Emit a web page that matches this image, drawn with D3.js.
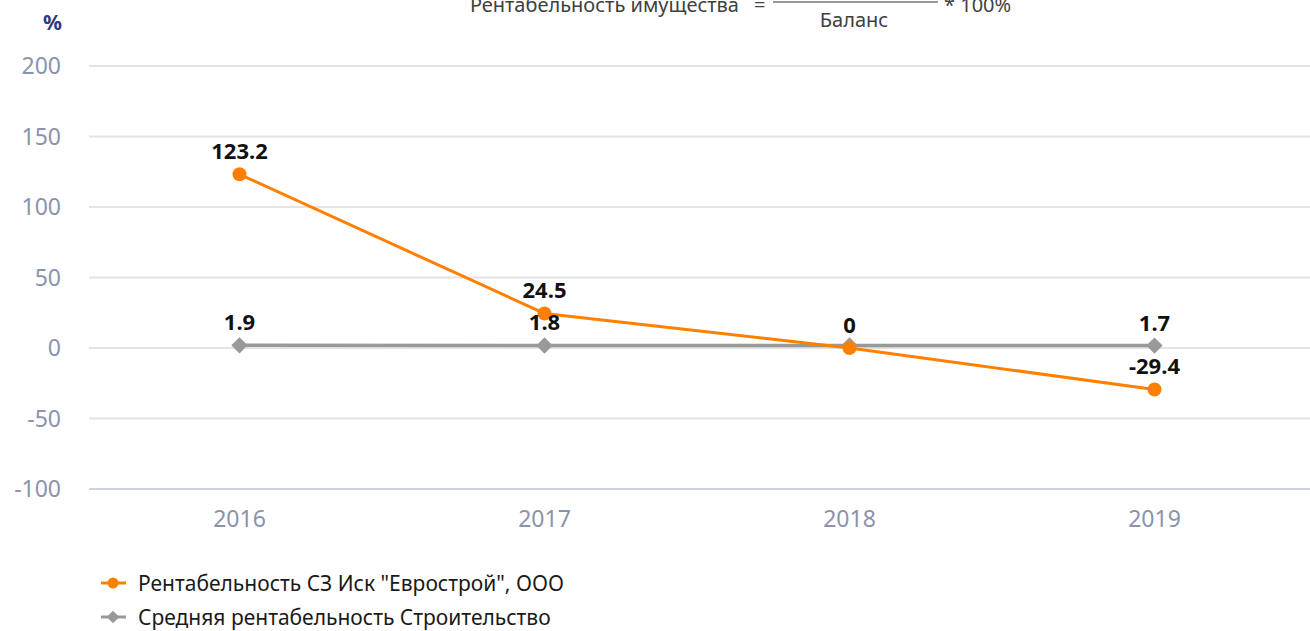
<!DOCTYPE html>
<html>
<head>
<meta charset="utf-8">
<script src="https://cdn.jsdelivr.net/npm/d3@7"></script>
<style>
  body { margin: 0; background: #fff; }
  svg { font-family: "Noto Sans", sans-serif; display: block; }
</style>
</head>
<body>
<script>
// chart data
var years = ["2016", "2017", "2018", "2019"];
var company = [123.2, 24.5, 0, -29.4];
var companyLabels = ["123.2", "24.5", "0", "-29.4"];
var industry = [1.9, 1.8, 1.8, 1.7];
var industryLabels = ["1.9", "1.8", "", "1.7"];
var yTicks = [-100, -50, 0, 50, 100, 150, 200];
var seriesNames = ["Рентабельность СЗ Иск \"Еврострой\", ООО", "Средняя рентабельность Строительство"];

var width = 1310, height = 631;
var orange = "#ff8000", grey = "#999999";

var svg = d3.select("body").append("svg")
    .attr("width", width).attr("height", height);

var x = d3.scalePoint().domain(years).range([87, 1307]).padding(0.5);
var y = d3.scaleLinear().domain([-100, 200]).range([489, 66]);

/* formula at the top (numerator is cut off) */
var f = svg.append("g").style("fill", "#404040").style("font-size", "20px");
f.append("text").attr("x", 739).attr("y", 12).attr("text-anchor", "end")
    .text("Рентабельность имущества");
f.append("text").attr("x", 754).attr("y", 12).text("=");
f.append("line").attr("x1", 773).attr("x2", 938).attr("y1", 2).attr("y2", 2)
    .style("stroke", "#999").style("stroke-width", 2);
f.append("text").attr("x", 944).attr("y", 12).text("* 100%");
f.append("text").attr("x", 854).attr("y", 27).attr("text-anchor", "middle").text("Баланс");

// units label
svg.append("text").attr("x", 62).attr("y", 30).attr("text-anchor", "end")
    .style("font-size", "21px").style("font-weight", "bold").style("fill", "#2d3a7c")
    .text("%");

// gridlines + y labels
svg.append("g").selectAll("line").data(yTicks).join("line")
    .attr("x1", 89).attr("x2", width)
    .attr("y1", function(d){ return y(d); }).attr("y2", function(d){ return y(d); })
    .style("stroke", function(d){ return d === -100 ? "#cbd3e3" : "#e3e3e3"; })
    .style("stroke-width", 2);

svg.append("g").selectAll("text").data(yTicks).join("text")
    .attr("x", 61).attr("y", function(d){ return y(d) + 8; })
    .attr("text-anchor", "end")
    .style("font-size", "23px").style("fill", "#8a93ad")
    .text(function(d){ return d; });

// x labels
svg.append("g").selectAll("text").data(years).join("text")
    .attr("x", function(d){ return x(d); }).attr("y", 527)
    .attr("text-anchor", "middle")
    .style("font-size", "23px").style("fill", "#8a93ad")
    .text(function(d){ return d; });

var line = d3.line()
    .x(function(d, i){ return x(years[i]); })
    .y(function(d){ return y(d); });

// industry series (grey, diamonds)
svg.append("path").datum(industry).attr("d", line)
    .style("fill", "none").style("stroke", grey).style("stroke-width", 3.5);
svg.append("g").selectAll("path").data(industry).join("path")
    .attr("d", d3.symbol(d3.symbolDiamond2, 170))
    .attr("transform", function(d, i){ return "translate(" + x(years[i]) + "," + y(d) + ")"; })
    .style("fill", grey);

// company series (orange, circles)
svg.append("path").datum(company).attr("d", line)
    .style("fill", "none").style("stroke", orange).style("stroke-width", 3);
svg.append("g").selectAll("circle").data(company).join("circle")
    .attr("cx", function(d, i){ return x(years[i]); })
    .attr("cy", function(d){ return y(d); })
    .attr("r", 7).style("fill", orange);

// data labels
function addLabels(vals, labels) {
    svg.append("g").selectAll("text").data(vals).join("text")
        .attr("x", function(d, i){ return x(years[i]); })
        .attr("y", function(d){ return y(d) - 15; })
        .attr("text-anchor", "middle")
        .style("font-size", "22px").style("font-weight", "bold").style("fill", "#111")
        .text(function(d, i){ return labels[i]; });
}
addLabels(industry, industryLabels);
addLabels(company, companyLabels);

// legend
var leg = svg.append("g");
var rows = [{ name: seriesNames[0], c: orange, shape: "circle" },
            { name: seriesNames[1], c: grey, shape: "diamond" }];
rows.forEach(function(r, i){
    var ly = 583 + i * 34;
    leg.append("line").attr("x1", 101).attr("x2", 126).attr("y1", ly).attr("y2", ly)
        .style("stroke", r.c).style("stroke-width", 3);
    if (r.shape === "circle") {
        leg.append("circle").attr("cx", 113).attr("cy", ly).attr("r", 5.5).style("fill", r.c);
    } else {
        leg.append("path").attr("d", d3.symbol(d3.symbolDiamond2, 100))
            .attr("transform", "translate(113," + ly + ")").style("fill", r.c);
    }
    leg.append("text").attr("x", 138).attr("y", ly + 8)
        .style("font-size", "21px").style("fill", "#1a1a1a")
        .text(r.name);
});
</script>
</body>
</html>
